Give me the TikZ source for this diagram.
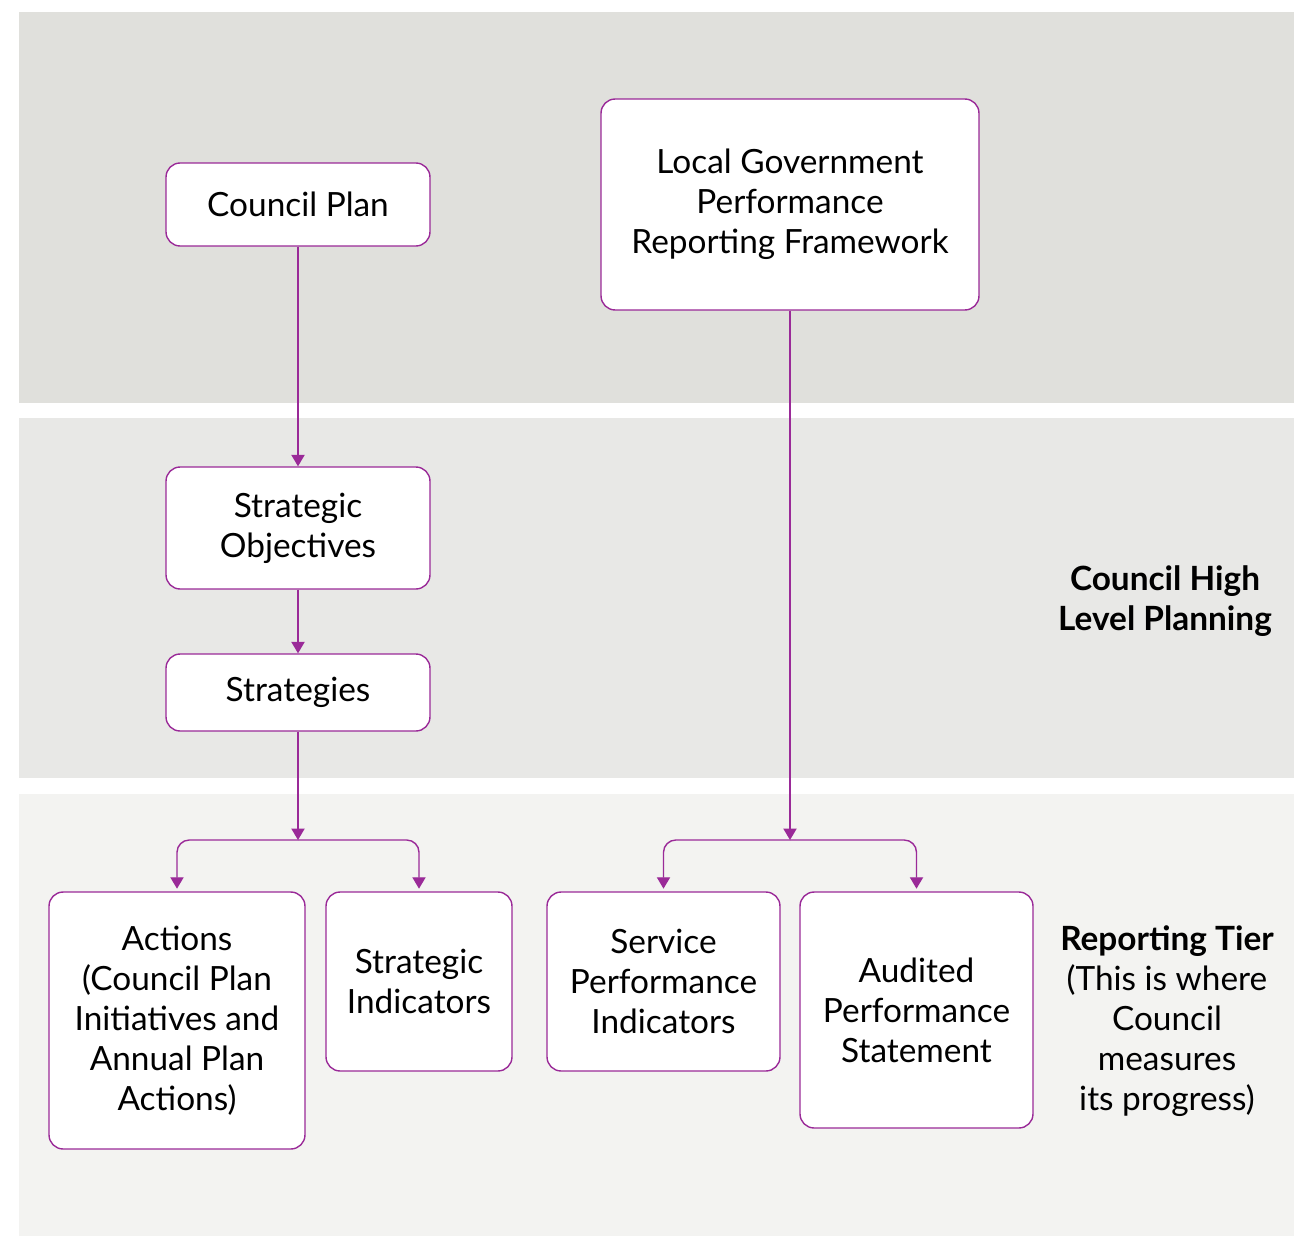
\documentclass[tikz,border=0pt]{standalone}
\usepackage{fontspec}
\setmainfont{Lato}
\usetikzlibrary{arrows.meta}
\definecolor{plum}{HTML}{9A2A98}
\definecolor{bandtop}{HTML}{E0E0DC}
\definecolor{bandmid}{HTML}{E8E8E6}
\definecolor{bandlow}{HTML}{F3F3F1}
\tikzset{
  box/.style={draw=plum, line width=0.8pt, fill=white, rounded corners=8pt, align=center, inner sep=0pt},
  arr/.style={draw=plum, line width=0.8pt, -{Triangle[width=7.5pt,length=6.5pt]}},
  side/.style={align=center}
}
\begin{document}
\begin{tikzpicture}[x=0.02cm, y=-0.02cm, font=\fontsize{19}{22.7}\selectfont]
    \useasboundingbox (0,0) rectangle (1294,1237);
    % bands
    \fill[bandtop] (19,12) rectangle (1294,403);
    \fill[bandmid] (19,418) rectangle (1294,778);
    \fill[bandlow] (19,794) rectangle (1294,1236);

    \node[box, minimum width=5.28cm, minimum height=1.66cm] (plan) at (298,204.5) {Council Plan};
    \node[box, minimum width=7.56cm, minimum height=4.22cm] (lgprf) at (790,204.5) {Local Government\\Performance\\Reporting Framework};
    \node[box, minimum width=5.28cm, minimum height=2.44cm] (obj) at (298,528) {Strategic\\Objectives};
    \node[box, minimum width=5.28cm, minimum height=1.54cm] (strat) at (298,692.5) {Strategies};
    \node[box, minimum width=5.12cm, minimum height=5.14cm] (act) at (177,1020.5) {Actions\\(Council Plan\\Initiatives and\\Annual Plan\\Actions)};
    \node[box, minimum width=3.72cm, minimum height=3.58cm] (sind) at (419,981.5) {Strategic\\Indicators};
    \node[box, minimum width=4.66cm, minimum height=3.58cm] (spi) at (663.5,981.5) {Service\\Performance\\Indicators};
    \node[box, minimum width=4.66cm, minimum height=4.72cm] (aps) at (916.5,1010) {Audited\\Performance\\Statement};

    \node[side] (high) at (1165,601) {\textbf{Council High}\\\textbf{Level Planning}};
    \node[side] (tier) at (1167,1021) {\textbf{Reporting Tier}\\(This is where\\Council\\measures\\its progress)};

    \coordinate (forkL) at (298,840);
    \coordinate (forkR) at (790,840);
    \draw[arr] (plan.south) -- (obj.north);
    \draw[arr] (obj.south) -- (strat.north);
    \draw[arr] (strat.south) -- (forkL);
    \draw[arr, rounded corners=7pt, shorten >=1.5pt] (forkL) -| (act.north);
    \draw[arr, rounded corners=7pt, shorten >=1.5pt] (forkL) -| (sind.north);
    \draw[arr] (lgprf.south) -- (forkR);
    \draw[arr, rounded corners=7pt, shorten >=1.5pt] (forkR) -| (spi.north);
    \draw[arr, rounded corners=7pt, shorten >=1.5pt] (forkR) -| (aps.north);
\end{tikzpicture}
\end{document}
